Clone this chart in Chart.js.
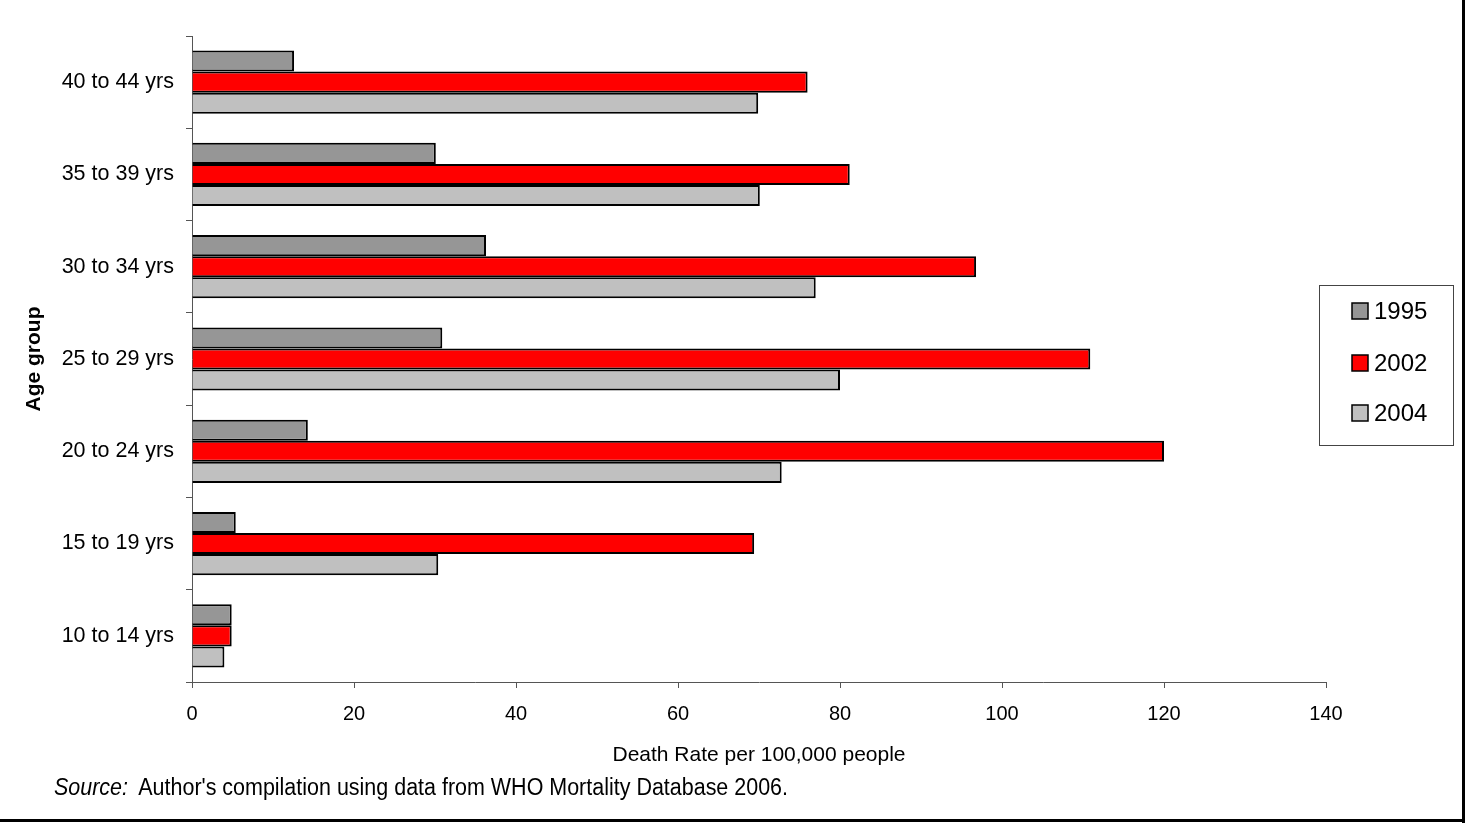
<!DOCTYPE html>
<html>
<head>
<meta charset="utf-8">
<script src="https://cdn.jsdelivr.net/npm/chart.js@4/dist/chart.umd.min.js"></script>
<style>
  body { margin: 0; background: #fff; }
  #chart { display: block; }
</style>
</head>
<body>
<canvas id="chart" width="1465" height="823"></canvas>
<script>
'use strict';

var ageGroups = ['40 to 44 yrs', '35 to 39 yrs', '30 to 34 yrs', '25 to 29 yrs', '20 to 24 yrs', '15 to 19 yrs', '10 to 14 yrs'];
var years = ['1995', '2002', '2004'];
var rate1995 = [12.6, 30.1, 36.3, 30.9, 14.3, 5.4, 4.9];
var rate2002 = [76.0, 81.2, 96.8, 110.9, 120.0, 69.4, 4.9];
var rate2004 = [69.9, 70.1, 77.0, 80.0, 72.8, 30.4, 4.0];
var xTicks = [0, 20, 40, 60, 80, 100, 120, 140];

var fontFamily = "'Liberation Sans', Arial, sans-serif";

// legend box, source line and frame
var extras = {
  id: 'extras',
  afterDraw: function(chart) {
    var ctx = chart.ctx;
    ctx.save();

    // legend
    ctx.strokeStyle = '#444';
    ctx.lineWidth = 1;
    ctx.strokeRect(1319.5, 285.5, 134, 160);
    var rows = [311, 363, 413];
    chart.data.datasets.forEach(function(ds, i) {
      ctx.fillStyle = ds.backgroundColor;
      ctx.fillRect(1352, rows[i] - 8, 16, 16);
      ctx.strokeStyle = '#000';
      ctx.lineWidth = 1.5;
      ctx.strokeRect(1352, rows[i] - 8, 16, 16);
      ctx.fillStyle = '#000';
      ctx.font = '24px ' + fontFamily;
      ctx.textBaseline = 'middle';
      ctx.textAlign = 'left';
      ctx.fillText(ds.label, 1374, rows[i] + 1);
    });

    // source, condensed to the width of the original
    ctx.textBaseline = 'middle';
    var italic = 'italic 23px ' + fontFamily;
    var plain = '23px ' + fontFamily;
    var rest = "Author's compilation using data from WHO Mortality Database 2006.";
    ctx.font = italic;
    var w1 = ctx.measureText('Source:').width;
    ctx.font = plain;
    var w2 = ctx.measureText(rest).width;
    var sx = 734 / (w1 + 11 + w2);
    ctx.translate(54, 789);
    ctx.scale(sx, 1);
    ctx.font = italic;
    ctx.fillText('Source:', 0, 0);
    ctx.font = plain;
    ctx.fillText(rest, w1 + 11, 0);
    ctx.setTransform(1, 0, 0, 1, 0, 0);
    ctx.scale(chart.currentDevicePixelRatio, chart.currentDevicePixelRatio);

    // frame
    ctx.strokeStyle = '#000';
    ctx.lineWidth = 3;
    ctx.beginPath();
    ctx.moveTo(0, 820.5);
    ctx.lineTo(1465, 820.5);
    ctx.moveTo(1463.5, 0);
    ctx.lineTo(1463.5, 823);
    ctx.stroke();
    ctx.restore();
  }
};

var ctx = document.getElementById('chart');
var chart = new Chart(ctx, {
  type: 'bar',
  data: {
    labels: ageGroups,
    datasets: [{
        label: years[0],
        data: rate1995,
        backgroundColor: '#969696',
        borderColor: '#000',
        borderWidth: 2
      },
      {
        label: years[1],
        data: rate2002,
        backgroundColor: '#FF0000',
        borderColor: '#000',
        borderWidth: 2
      },
      {
        label: years[2],
        data: rate2004,
        backgroundColor: '#C0C0C0',
        borderColor: '#000',
        borderWidth: 2
      }
    ]
  },
  options: {
    indexAxis: 'y',
    responsive: false,
    animation: false,
    categoryPercentage: 0.685,
    barPercentage: 1,
    layout: {
      padding: { left: 0, right: 139, top: 36, bottom: 55 }
    },
    plugins: {
      legend: { display: false },
      tooltip: { enabled: false }
    },
    scales: {
      x: {
        min: 0,
        max: 140,
        afterBuildTicks: function(scale) {
          scale.ticks = xTicks.map(function(v) { return { value: v }; });
        },
        afterFit: function(scale) { scale.height = 86; },
        grid: { drawOnChartArea: false, tickLength: 6, color: '#555' },
        border: { color: '#555', width: 1 },
        ticks: { color: '#000', padding: 14, font: { family: fontFamily, size: 20 } },
        title: {
          display: true,
          text: 'Death Rate per 100,000 people',
          color: '#000',
          padding: 0,
          font: { family: fontFamily, size: 21, lineHeight: 1.2 }
        }
      },
      y: {
        afterFit: function(scale) { scale.width = 192; },
        grid: { drawOnChartArea: false, tickLength: 6, color: '#555', offset: true },
        border: { color: '#555', width: 1 },
        ticks: { color: '#000', padding: 12, font: { family: fontFamily, size: 21.5 } },
        title: {
          display: true,
          text: 'Age group',
          color: '#000',
          padding: { top: 21.6, bottom: 0 },
          font: { family: fontFamily, size: 21, weight: 'bold', lineHeight: 1.2 }
        }
      }
    }
  },
  plugins: [extras]
});
</script>
</body>
</html>
